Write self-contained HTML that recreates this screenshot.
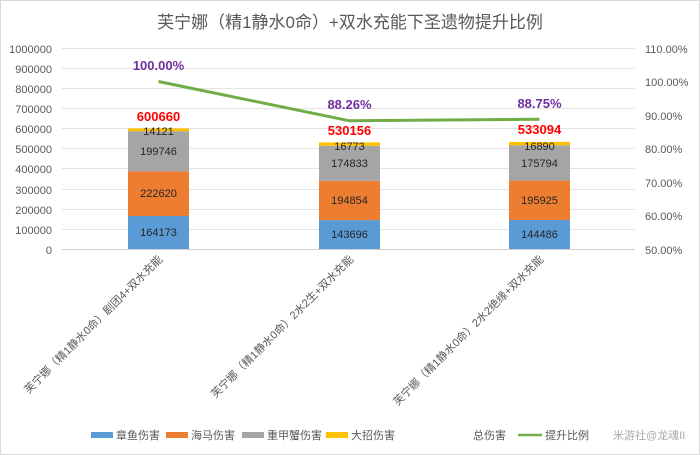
<!DOCTYPE html>
<html><head><meta charset="utf-8"><style>
body{margin:0;background:#fff}
svg{display:block;font-family:"Liberation Sans","Noto Sans CJK SC",sans-serif}
</style></head><body>
<svg width="700" height="455" viewBox="0 0 700 455">
<rect x="0.5" y="0.5" width="699" height="454" fill="#fff" stroke="#d9d9d9"/>
<text x="350" y="28" text-anchor="middle" font-size="17" fill="#595959">芙宁娜（精1静水0命）+双水充能下圣遗物提升比例</text>
<g stroke="#e3e3e3" stroke-width="1">
<line x1="62" y1="48.5" x2="635" y2="48.5"/><line x1="62" y1="68.5" x2="635" y2="68.5"/><line x1="62" y1="88.5" x2="635" y2="88.5"/><line x1="62" y1="108.5" x2="635" y2="108.5"/><line x1="62" y1="128.5" x2="635" y2="128.5"/><line x1="62" y1="148.5" x2="635" y2="148.5"/><line x1="62" y1="168.5" x2="635" y2="168.5"/><line x1="62" y1="189.5" x2="635" y2="189.5"/><line x1="62" y1="209.5" x2="635" y2="209.5"/><line x1="62" y1="229.5" x2="635" y2="229.5"/><line x1="62" y1="249.5" x2="635" y2="249.5" stroke="#d0d0d0"/>
</g>
<g font-size="11" fill="#595959" text-anchor="end">
<text x="52" y="53">1000000</text><text x="52" y="73">900000</text><text x="52" y="93">800000</text><text x="52" y="113">700000</text><text x="52" y="133">600000</text><text x="52" y="153">500000</text><text x="52" y="173">400000</text><text x="52" y="194">300000</text><text x="52" y="214">200000</text><text x="52" y="234">100000</text><text x="52" y="254">0</text>
</g>
<g font-size="11" fill="#595959">
<text x="645" y="53">110.00%</text><text x="645" y="86">100.00%</text><text x="645" y="120">90.00%</text><text x="645" y="153">80.00%</text><text x="645" y="187">70.00%</text><text x="645" y="220">60.00%</text><text x="645" y="254">50.00%</text>
</g>
<!-- bars -->
<g>
<rect x="128" y="216" width="61" height="33" fill="#5b9bd5"/>
<rect x="128" y="171.3" width="61" height="44.7" fill="#ed7d31"/>
<rect x="128" y="131.2" width="61" height="40.1" fill="#a5a5a5"/>
<rect x="128" y="128.4" width="61" height="2.8" fill="#ffc000"/>
<rect x="319" y="220.1" width="61" height="28.9" fill="#5b9bd5"/>
<rect x="319" y="180.9" width="61" height="39.2" fill="#ed7d31"/>
<rect x="319" y="145.8" width="61" height="35.1" fill="#a5a5a5"/>
<rect x="319" y="142.4" width="61" height="3.4" fill="#ffc000"/>
<rect x="509" y="220" width="61" height="29" fill="#5b9bd5"/>
<rect x="509" y="180.6" width="61" height="39.4" fill="#ed7d31"/>
<rect x="509" y="145.3" width="61" height="35.3" fill="#a5a5a5"/>
<rect x="509" y="141.9" width="61" height="3.4" fill="#ffc000"/>
</g>
<g font-size="11" fill="#262626" text-anchor="middle">
<text x="158.5" y="236">164173</text><text x="158.5" y="197">222620</text><text x="158.5" y="155">199746</text><text x="158.5" y="135">14121</text>
<text x="349.5" y="238">143696</text><text x="349.5" y="204">194854</text><text x="349.5" y="167">174833</text><text x="349.5" y="150">16773</text>
<text x="539.5" y="238">144486</text><text x="539.5" y="204">195925</text><text x="539.5" y="167">175794</text><text x="539.5" y="150">16890</text>
</g>
<g font-size="13" font-weight="bold" fill="#ff0000" text-anchor="middle">
<text x="158.5" y="121">600660</text><text x="349.5" y="135">530156</text><text x="539.5" y="134">533094</text>
</g>
<polyline points="158.5,81.5 349.5,120.8 539.5,119.2" fill="none" stroke="#70ad47" stroke-width="3"/>
<g font-size="13" font-weight="bold" fill="#7030a0" text-anchor="middle">
<text x="158.5" y="70">100.00%</text><text x="349.5" y="109">88.26%</text><text x="539.5" y="108">88.75%</text>
</g>
<g font-size="11" fill="#595959" text-anchor="end">
<text transform="translate(163,260) rotate(-45)">芙宁娜（精1静水0命）剧团4+双水充能</text>
<text transform="translate(354,260) rotate(-45)">芙宁娜（精1静水0命）2水2生+双水充能</text>
<text transform="translate(544,260) rotate(-45)">芙宁娜（精1静水0命）2水2绝缘+双水充能</text>
</g>
<g font-size="11" fill="#595959">
<rect x="91" y="432" width="22" height="6" fill="#5b9bd5"/><text x="116" y="439">章鱼伤害</text>
<rect x="166" y="432" width="22" height="6" fill="#ed7d31"/><text x="191" y="439">海马伤害</text>
<rect x="242" y="432" width="22" height="6" fill="#a5a5a5"/><text x="267" y="439">重甲蟹伤害</text>
<rect x="326" y="432" width="22" height="6" fill="#ffc000"/><text x="351" y="439">大招伤害</text>
<text x="473" y="439">总伤害</text>
<line x1="518" y1="435" x2="542" y2="435" stroke="#70ad47" stroke-width="2.5"/><text x="545" y="439">提升比例</text>
<text x="613" y="439" fill="#aaa">米游社@龙魂II</text>
</g>
</svg>
</body></html>
